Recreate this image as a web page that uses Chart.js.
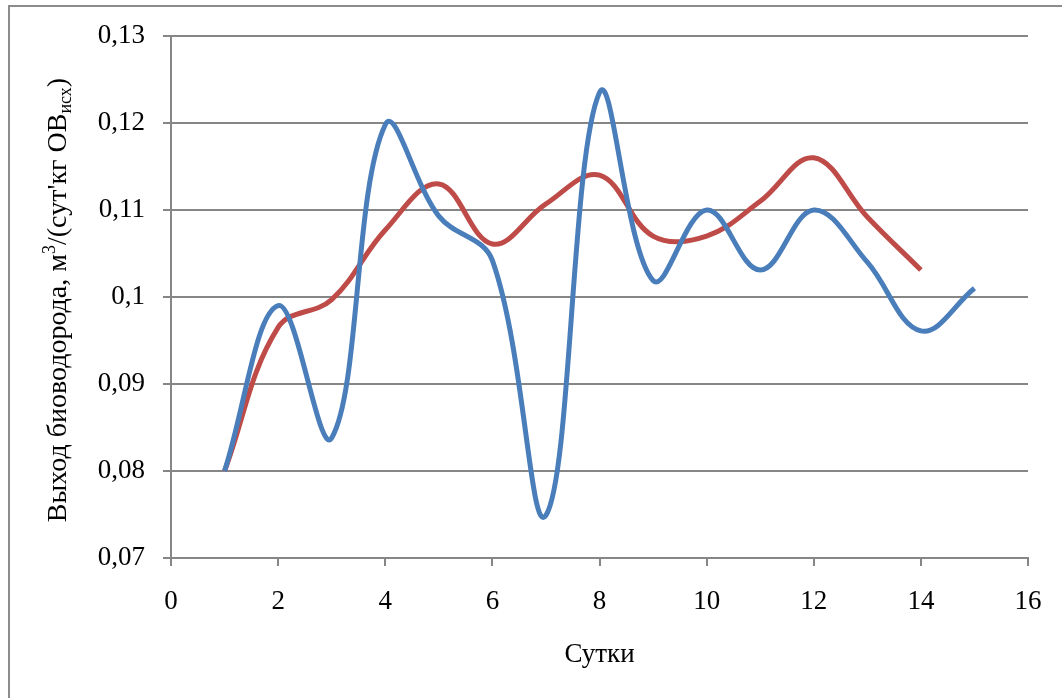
<!DOCTYPE html>
<html>
<head>
<meta charset="utf-8">
<script src="https://cdn.jsdelivr.net/npm/chart.js@4.4.1/dist/chart.umd.min.js"></script>
<style>
  html, body { margin: 0; padding: 0; background: #fff; }
  #wrap { width: 1062px; height: 698px; }
</style>
</head>
<body>
<div id="wrap"><canvas id="chart"></canvas></div>
<script>
// days (x values)
const daysBlue = [1, 2, 3, 4, 5, 6, 7, 8, 9, 10, 11, 12, 13, 14, 15];
const daysRed = [1, 2, 3, 4, 5, 6, 7, 8, 9, 10, 11, 12, 13, 14];

// hydrogen yield, m3/(day*kg)
const yieldBlue = [0.080, 0.099, 0.0838, 0.1198, 0.1093, 0.1042, 0.0749, 0.1235, 0.1019, 0.1100, 0.1031, 0.1100, 0.1040, 0.0961, 0.1010];
const yieldRed = [0.080, 0.0965, 0.0997, 0.1077, 0.1130, 0.1061, 0.1107, 0.1140, 0.1070, 0.1070, 0.1110, 0.1160, 0.1092, 0.1031];

const xTitle = 'Сутки';
// y title pieces: [text, kind]  kind: n = normal, sup, sub
const yTitle = [['Выход биоводорода, м', 'n'], ['3', 'sup'], ['/(сут\'кг ОВ', 'n'], ['исх', 'sub'], [')', 'n']];

const FONT = '"Liberation Serif", "Times New Roman", serif';
const GRID = '#868686';

function toPoints(xs, ys) {
  return xs.map((x, i) => ({ x: x, y: ys[i] }));
}

// frame + axis titles drawn on the canvas
const decor = {
  id: 'decor',
  beforeDraw(chart) {
    const ctx = chart.ctx;
    ctx.save();
    ctx.fillStyle = '#fff';
    ctx.fillRect(0, 0, chart.width, chart.height);
    ctx.strokeStyle = '#8c8c8c';
    ctx.lineWidth = 2;
    ctx.strokeRect(9, 6, 1200, 1200);
    ctx.restore();
  },
  afterDraw(chart) {
    const ctx = chart.ctx;
    const area = chart.chartArea;
    ctx.save();
    ctx.fillStyle = '#000';
    ctx.textBaseline = 'alphabetic';

    // x title
    ctx.font = '27px ' + FONT;
    ctx.textAlign = 'center';
    ctx.fillText(xTitle, (area.left + area.right) / 2, 662);

    // y title, rotated, with sup / sub
    ctx.textAlign = 'left';
    const big = '28px ' + FONT;
    const small = '18px ' + FONT;
    let total = 0;
    yTitle.forEach(([t, k]) => {
      ctx.font = k === 'n' ? big : small;
      total += ctx.measureText(t).width;
    });
    ctx.translate(66, 300);
    ctx.rotate(-Math.PI / 2);
    let x = -total / 2;
    yTitle.forEach(([t, k]) => {
      ctx.font = k === 'n' ? big : small;
      const dy = k === 'sup' ? -11 : (k === 'sub' ? 5 : 0);
      ctx.fillText(t, x, dy);
      x += ctx.measureText(t).width;
    });
    ctx.restore();
  }
};

const ctx = document.getElementById('chart').getContext('2d');
new Chart(ctx, {
  type: 'line',
  data: {
    datasets: [
      {
        label: 'blue',
        data: toPoints(daysBlue, yieldBlue),
        borderColor: '#4a7ebb',
        borderWidth: 5,
        pointRadius: 0,
        tension: 0.38,
        fill: false,
      },
      {
        label: 'red',
        data: toPoints(daysRed, yieldRed),
        borderColor: '#be4b48',
        borderWidth: 5,
        pointRadius: 0,
        tension: 0.38,
        fill: false,
      },
    ],
  },
  options: {
    responsive: true,
    maintainAspectRatio: false,
    animation: false,
    layout: { padding: { left: 0, top: 36, right: 34, bottom: 0 } },
    plugins: {
      legend: { display: false },
      tooltip: { enabled: false },
    },
    scales: {
      x: {
        type: 'linear',
        min: 0,
        max: 16,
        ticks: {
          stepSize: 2,
          padding: 20,
          color: '#000',
          font: { family: FONT, size: 27 },
          maxRotation: 0,
        },
        grid: {
          drawOnChartArea: false,
          drawTicks: true,
          tickLength: 8,
          color: GRID,
          lineWidth: 2,
        },
        border: { color: GRID, width: 2 },
        afterFit: (s) => { s.height = 140; },
      },
      y: {
        min: 0.07,
        max: 0.13,
        ticks: {
          stepSize: 0.01,
          padding: 18,
          color: '#000',
          font: { family: FONT, size: 27 },
          callback: (v) => String(Number(v.toFixed(2))).replace('.', ','),
        },
        grid: {
          color: GRID,
          lineWidth: 2,
          tickLength: 8,
        },
        border: { color: GRID, width: 2 },
        afterFit: (s) => { s.width = 171; },
      },
    },
  },
  plugins: [decor],
});
</script>
</body>
</html>
